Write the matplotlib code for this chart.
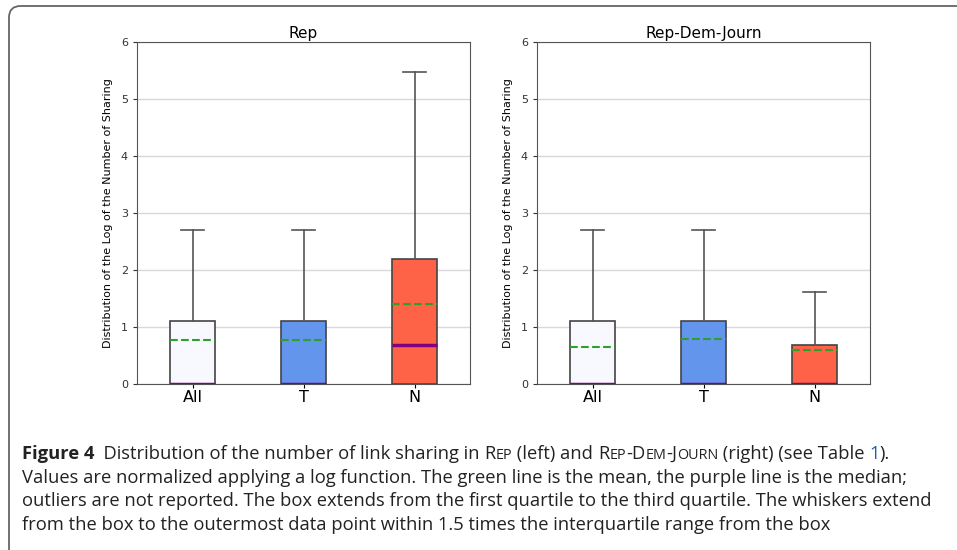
import matplotlib
matplotlib.use("Agg")
import matplotlib.pyplot as plt
from matplotlib.patches import FancyBboxPatch

# values (log of number of sharing)
groups = ["All", "T", "N"]
box_colors = ["#F8F8FF", "#6495ED", "#FF6347"]

rep_q3 = [1.10, 1.10, 2.20]
rep_whi = [2.71, 2.71, 5.48]
rep_med = [0.0, 0.0, 0.69]
rep_mean = [0.78, 0.78, 1.41]

rdj_q3 = [1.10, 1.10, 0.69]
rdj_whi = [2.71, 2.71, 1.61]
rdj_med = [0.0, 0.0, 0.0]
rdj_mean = [0.65, 0.79, 0.60]

q1 = [0.0, 0.0, 0.0]
whislo = [0.0, 0.0, 0.0]


def stats(q3, whi, med, mean):
    out = []
    for i, g in enumerate(groups):
        out.append(dict(label=g, q1=q1[i], q3=q3[i], med=med[i], mean=mean[i],
                        whislo=whislo[i], whishi=whi[i], fliers=[]))
    return out


fig = plt.figure(figsize=(9.57, 5.5), dpi=100)

# rounded frame around the figure block (clipped at right / bottom like the page crop)
frame = FancyBboxPatch((9 / 957, -12 / 550), 980 / 957, 556 / 550,
                       boxstyle="round,pad=0,rounding_size=0.012",
                       transform=fig.transFigure, fill=False,
                       edgecolor="#666666", linewidth=1.3, mutation_aspect=957 / 550)
fig.patches.append(frame)

ax1 = fig.add_axes([137 / 957, 1 - 384 / 550, 333 / 957, 342 / 550])
ax2 = fig.add_axes([537 / 957, 1 - 384 / 550, 333 / 957, 342 / 550])

for ax, title, st in [
    (ax1, "Rep", stats(rep_q3, rep_whi, rep_med, rep_mean)),
    (ax2, "Rep-Dem-Journ", stats(rdj_q3, rdj_whi, rdj_med, rdj_mean)),
]:
    ax.yaxis.grid(True, color="#d9d9d9", linewidth=1)
    ax.set_axisbelow(True)
    bp = ax.bxp(st, showfliers=False, showmeans=True, meanline=True, patch_artist=True,
                widths=0.4,
                boxprops=dict(edgecolor="#444444", linewidth=1.2),
                whiskerprops=dict(color="#555555", linewidth=1.2),
                capprops=dict(color="#555555", linewidth=1.2),
                medianprops=dict(color="purple", linewidth=2.5),
                meanprops=dict(color="#2ca02c", linestyle="--", linewidth=1.5))
    for patch, c in zip(bp["boxes"], box_colors):
        patch.set_facecolor(c)
    ax.set_ylim(0, 6)
    ax.set_xlim(0.5, 3.5)
    ax.set_yticks(range(7))
    ax.tick_params(axis="y", labelsize=8, colors="#333333", length=3)
    ax.tick_params(axis="x", labelsize=11.5, length=3, pad=1)
    ax.set_title(title, fontsize=11, pad=3)
    ax.set_ylabel("Distribution of the Log of the Number of Sharing", fontsize=8, labelpad=6)
    for s in ax.spines.values():
        s.set_color("#555555")

# caption, drawn run by run to keep the bold / small caps / blue parts
cap = dict(family=["Open Sans", "DejaVu Sans"], color="#222222", va="baseline")
big = 13.2
small = 10.4
blue = "#1a5fb4"

lines = [
    [("Figure 4", big, "bold", None), ("  Distribution of the number of link sharing in ", big, "normal", None),
     ("R", big, "normal", None), ("EP", small, "normal", None), (" (left) and ", big, "normal", None),
     ("R", big, "normal", None), ("EP", small, "normal", None), ("-D", big, "normal", None),
     ("EM", small, "normal", None), ("-J", big, "normal", None), ("OURN", small, "normal", None),
     (" (right) (see Table ", big, "normal", None), ("1", big, "normal", blue), (").", big, "normal", None)],
    [("Values are normalized applying a log function. The green line is the mean, the purple line is the median;",
      big, "normal", None)],
    [("outliers are not reported. The box extends from the first quartile to the third quartile. The whiskers extend",
      big, "normal", None)],
    [("from the box to the outermost data point within 1.5 times the interquartile range from the box",
      big, "normal", None)],
]
baselines = [459, 483, 506, 530]

fig.canvas.draw()
renderer = fig.canvas.get_renderer()
for runs, yb in zip(lines, baselines):
    x = 22 / 957
    for txt, size, weight, color in runs:
        kw = dict(cap)
        if color:
            kw["color"] = color
        t = fig.text(x, 1 - yb / 550, txt, fontsize=size, fontweight=weight, **kw)
        bb = t.get_window_extent(renderer)
        x = bb.x1 / fig.bbox.width

fig.savefig("out.png", dpi=100)
